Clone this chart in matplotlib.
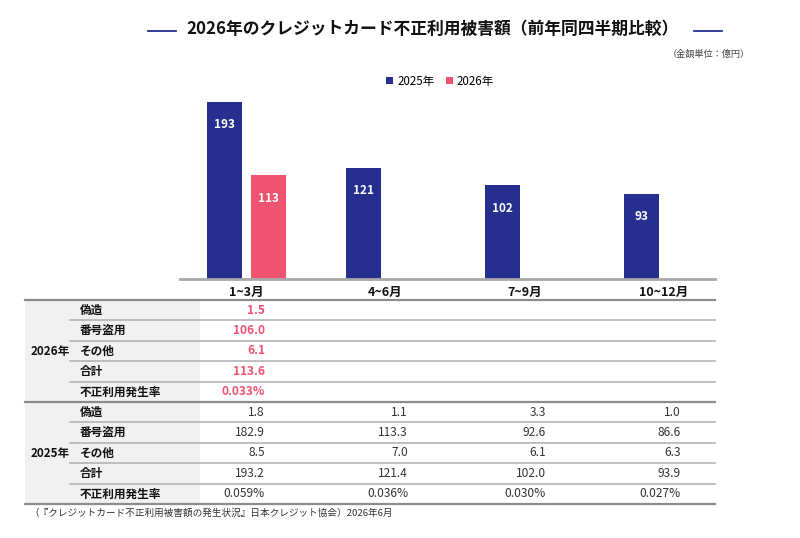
import numpy as np
import matplotlib.pyplot as plt

plt.rcParams['font.family'] = ['Noto Sans CJK JP', 'DejaVu Sans']

# データ（単位：億円）
quarters = ['1~3月', '4~6月', '7~9月', '10~12月']
totals_2025 = [193, 121, 102, 93]
totals_2026 = [113]

row_labels = ['偽造', '番号盗用', 'その他', '合計', '不正利用発生率']
table_2026 = [['1.5'], ['106.0'], ['6.1'], ['113.6'], ['0.033%']]
table_2025 = [['1.8', '1.1', '3.3', '1.0'],
              ['182.9', '113.3', '92.6', '86.6'],
              ['8.5', '7.0', '6.1', '6.3'],
              ['193.2', '121.4', '102.0', '93.9'],
              ['0.059%', '0.036%', '0.030%', '0.027%']]

navy = '#262e8f'
pink = '#ef5370'
W, H = 800, 538

fig = plt.figure(figsize=(8, 5.38), dpi=100)

# 棒グラフ部分
base_y = 279
top_y = 95
ax = fig.add_axes([180 / W, (H - base_y) / H, 535 / W, (base_y - top_y) / H])
x = np.arange(len(quarters))
off = 0.158
bw = 0.252
b25 = ax.bar(x - off, totals_2025, bw, color=navy, label='2025年')
b26 = ax.bar(x[:len(totals_2026)] + off, totals_2026, bw, color=pink, label='2026年')
for bars in (b25, b26):
    for r in bars:
        ax.annotate(str(int(r.get_height())), (r.get_x() + r.get_width() / 2, r.get_height()),
                    xytext=(0, -16.5), textcoords='offset points', ha='center', va='center',
                    color='white', fontsize=8.5, fontweight='bold')
ax.set_xlim(-0.478, 3.37)
ax.set_ylim(0, 193 * (base_y - top_y) / 177)
ax.set_xticks(x)
ax.set_xticklabels(quarters, fontsize=9, fontweight='bold', color='#111111')
ax.tick_params(axis='x', length=0, pad=5)
ax.set_yticks([])
for s in ['top', 'right', 'left']:
    ax.spines[s].set_visible(False)
ax.spines['bottom'].set_color('#a8a8a8')
ax.spines['bottom'].set_linewidth(2)

fig.legend(handles=[b25, b26], loc='center', bbox_to_anchor=(440 / W, 1 - 81 / H),
           ncol=2, frameon=False, fontsize=8.3, handlelength=0.6, handleheight=0.6,
           handletextpad=0.35, columnspacing=1.0, borderaxespad=0)

# タイトル
tax = fig.add_axes([0, 0, 1, 1])
tax.set_xlim(0, W)
tax.set_ylim(H, 0)
tax.axis('off')
tax.text(433, 29, '2026年のクレジットカード不正利用被害額（前年同四半期比較）',
         ha='center', va='center', fontsize=12.1, fontweight='bold', color='#111111')
tax.plot([148, 176], [31, 31], color=navy, lw=1.3)
tax.plot([694, 722], [31, 31], color=navy, lw=1.3)
tax.text(750, 54, '（金額単位：億円）', ha='right', va='center', fontsize=6.6, color='#444444')

# 表
t_top = 300
rh = 20.4
t_left, t_right = 25, 715
val_x = [265, 408, 546, 681]
groups = [('2026年', table_2026, pink, 'bold'), ('2025年', table_2025, '#333333', 'normal')]
for g, (year, vals, col, wt) in enumerate(groups):
    y0 = t_top + g * 5 * rh
    tax.fill_between([t_left, 200], y0, y0 + 5 * rh, color='#f1f1f1', lw=0, zorder=0)
    tax.text(50, y0 + 2.5 * rh, year, ha='center', va='center', fontsize=8.4,
             fontweight='bold', color='#111111')
    for i, lab in enumerate(row_labels):
        yc = y0 + (i + 0.5) * rh
        tax.text(80, yc, lab, ha='left', va='center', fontsize=8.4,
                 fontweight='bold', color='#111111')
        for j, v in enumerate(vals[i]):
            tax.text(val_x[j], yc, v, ha='right', va='center', fontsize=8.6,
                     fontweight=wt, color=col)
        if i > 0:
            tax.plot([70, t_right], [y0 + i * rh] * 2, color='#b4b4b4', lw=1.2)
for k in range(3):
    yy = t_top + k * 5 * rh
    tax.plot([t_left, t_right], [yy, yy], color='#8c8c8c', lw=1.6)

tax.text(29, 513, '（『クレジットカード不正利用被害額の発生状況』日本クレジット協会）2026年6月',
         ha='left', va='center', fontsize=6.9, color='#333333')

fig.savefig('out.png', dpi=100)
